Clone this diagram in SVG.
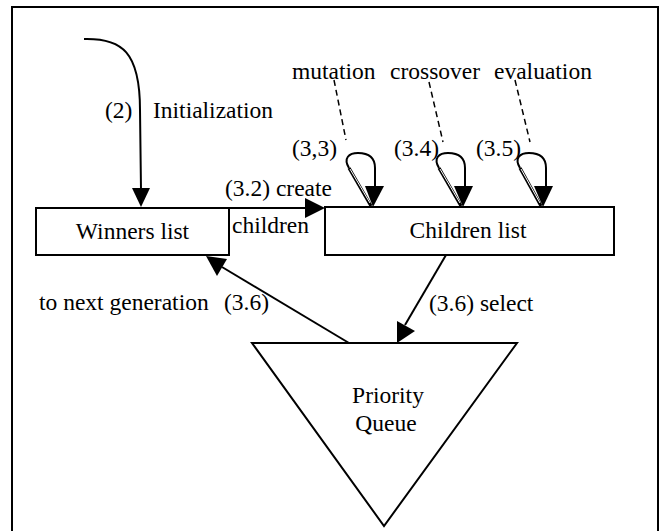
<svg xmlns="http://www.w3.org/2000/svg" width="662" height="531" viewBox="0 0 662 531">
<defs>
<style>
text{font-family:"Liberation Serif","Times New Roman",serif;font-size:23.5px;fill:#000}
.ln{fill:none;stroke:#000;stroke-width:2}
.dash{fill:none;stroke:#000;stroke-width:1.5;stroke-dasharray:6,4}
.box{fill:#fff;stroke:#000;stroke-width:2}
.head{fill:#000;stroke:none}
.loop{fill:none;stroke:#000;stroke-width:2}
.dbl{fill:none;stroke:#000;stroke-width:3.2}
.inner{fill:none;stroke:#fff;stroke-width:1}
</style>
</defs>
<rect x="0" y="0" width="662" height="531" fill="#fff"/>
<rect id="frame" x="12" y="7" width="646" height="540" fill="none" stroke="#000" stroke-width="2"/>
<g id="connectors">
<path class="ln" d="M84,39 C122,38 140,52 140,110 L141,190"/>
<polygon class="head" points="132,188 150,188 141,207"/>
<path class="ln" d="M229,208 L306,208"/>
<polygon class="head" points="305,198 325,208 305,218"/>
<path class="ln" d="M446,255 L405,325"/>
<polygon class="head" points="397,321 415,331 397,343"/>
<path class="ln" d="M349,343 L222,267"/>
<polygon class="head" points="227,259 217,276 206,256"/>
<g id="loop1">
<path class="loop" d="M349,168 C343,158 349,153 358,153 C370,153 375,158 375,168 L375,187"/>
<path class="dbl" d="M371,206 L349,168"/>
<path class="inner" d="M370,203 L350,169"/>
<polygon class="head" points="365,186 384,186 373,207"/>
</g>
<g id="loop2">
<path class="loop" d="M439,168 C433,158 439,153 448,153 C460,153 465,158 465,168 L465,187"/>
<path class="dbl" d="M461,206 L439,168"/>
<path class="inner" d="M460,203 L440,169"/>
<polygon class="head" points="454,186 473,186 463,207"/>
</g>
<g id="loop3">
<path class="loop" d="M520,168 C514,158 520,153 529,153 C541,153 546,158 546,168 L546,187"/>
<path class="dbl" d="M541,206 L520,168"/>
<path class="inner" d="M540,203 L521,169"/>
<polygon class="head" points="534,186 553,186 543,207"/>
</g>
<path class="dash" d="M334,80 L346,140"/>
<path class="dash" d="M429,82 L443,142"/>
<path class="dash" d="M515,80 L530,142"/>
</g>
<g id="winners">
<rect class="box" x="36" y="208" width="193" height="47"/>
<text x="132.5" y="239" text-anchor="middle">Winners list</text>
</g>
<g id="children">
<rect class="box" x="325" y="207" width="289" height="48"/>
<text x="468" y="238" text-anchor="middle">Children list</text>
</g>
<g id="queue">
<polygon class="box" points="252,343 517,343 384,526"/>
<text x="388" y="403" text-anchor="middle">Priority</text>
<text x="386" y="431" text-anchor="middle">Queue</text>
</g>
<g id="labels">
<text x="105" y="118">(2)</text>
<text x="153" y="118">Initialization</text>
<text x="292" y="79">mutation</text>
<text x="390" y="79">crossover</text>
<text x="494" y="79">evaluation</text>
<text x="292" y="156">(3,3)</text>
<text x="394" y="156">(3.4)</text>
<text x="476" y="156">(3.5)</text>
<text x="225" y="196">(3.2) create</text>
<text x="232" y="233">children</text>
<text x="39" y="310">to next generation</text>
<text x="224" y="310">(3.6)</text>
<text x="429" y="311">(3.6) select</text>
</g>
</svg>
